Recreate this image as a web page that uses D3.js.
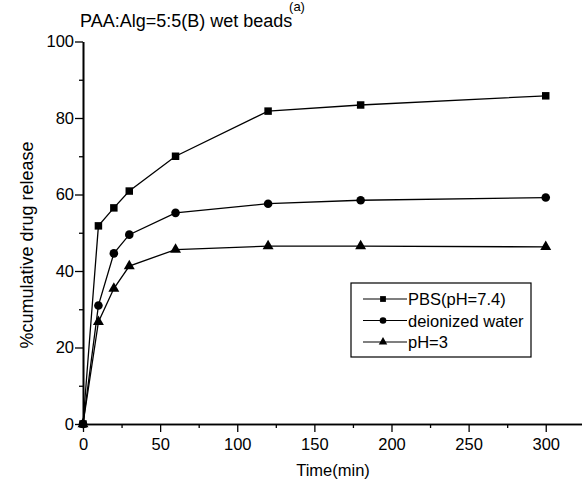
<!DOCTYPE html>
<html>
<head>
<meta charset="utf-8">
<script src="https://cdn.jsdelivr.net/npm/d3@7/dist/d3.min.js"></script>
<style>
  body { margin: 0; background: #fff; }
  svg { display: block; font-family: "Liberation Sans", Arial, sans-serif; }
</style>
</head>
<body>
<div id="chart"></div>
<script>
// data
const times = [0, 10, 20, 30, 60, 120, 180, 300];
const pbs = [0, 51.8, 56.5, 60.9, 70.0, 81.8, 83.4, 85.8];
const water = [0, 31.0, 44.6, 49.5, 55.2, 57.6, 58.5, 59.2];
const acid = [0, 26.7, 35.4, 41.3, 45.6, 46.5, 46.5, 46.3];
const seriesNames = ["PBS(pH=7.4)", "deionized water", "pH=3"];
const xTicks = [0, 50, 100, 150, 200, 250, 300];
const xMinor = [25, 75, 125, 175, 225, 275, 325];
const yTicks = [0, 20, 40, 60, 80, 100];
const yMinor = [10, 30, 50, 70, 90];

const W = 582, H = 485;

const svg = d3.select("#chart").append("svg")
  .attr("width", W)
  .attr("height", H);

const x = d3.scaleLinear().domain([0, 325]).range([83, 584.3]);
const y = d3.scaleLinear().domain([0, 100]).range([424, 41.5]);

// axes
svg.append("g")
  .attr("transform", `translate(0,${y(0)})`)
  .call(d3.axisBottom(x).tickValues(xTicks).tickSize(8).tickPadding(6).tickSizeOuter(0));
svg.append("g")
  .attr("transform", `translate(0,${y(0)})`)
  .call(d3.axisBottom(x).tickValues(xMinor).tickSize(4).tickFormat("").tickSizeOuter(0));

svg.append("g")
  .attr("transform", `translate(${x(0)},0)`)
  .call(d3.axisLeft(y).tickValues(yTicks).tickSize(8).tickPadding(1).tickSizeOuter(0));
svg.append("g")
  .attr("transform", `translate(${x(0)},0)`)
  .call(d3.axisLeft(y).tickValues(yMinor).tickSize(4).tickFormat("").tickSizeOuter(0));

svg.selectAll(".domain").attr("stroke", "#000").attr("stroke-width", 1.6);
svg.selectAll(".tick line").attr("stroke", "#000").attr("stroke-width", 1.3);
svg.selectAll(".tick text")
  .attr("fill", "#000")
  .style("font-size", "16.5px")
  .style("font-family", "'Liberation Sans', Arial, sans-serif");

// axis labels and titles
svg.append("text")
  .attr("x", 333)
  .attr("y", 476)
  .attr("text-anchor", "middle")
  .style("font-size", "16.5px")
  .text("Time(min)");

svg.append("text")
  .attr("transform", "rotate(-90)")
  .attr("x", -245)
  .attr("y", 33)
  .attr("text-anchor", "middle")
  .style("font-size", "18px")
  .text("%cumulative drug release");

svg.append("text")
  .attr("x", 80)
  .attr("y", 27)
  .style("font-size", "18px")
  .text("PAA:Alg=5:5(B) wet beads");

svg.append("text")
  .attr("x", 297)
  .attr("y", 11)
  .attr("text-anchor", "middle")
  .style("font-size", "13px")
  .text("(a)");

// series
const series = [
  { name: seriesNames[0], values: pbs, symbol: d3.symbolSquare, size: 56 },
  { name: seriesNames[1], values: water, symbol: d3.symbolCircle, size: 58 },
  { name: seriesNames[2], values: acid, symbol: d3.symbolTriangle, size: 52 }
];

const line = d3.line()
  .x((d, i) => x(times[i]))
  .y(d => y(d));

series.forEach(s => {
  svg.append("path")
    .datum(s.values)
    .attr("fill", "none")
    .attr("stroke", "#000")
    .attr("stroke-width", 1.3)
    .attr("d", line);

  svg.selectAll(null)
    .data(s.values)
    .enter()
    .append("path")
    .attr("transform", (d, i) => `translate(${x(times[i])},${y(d)})`)
    .attr("d", d3.symbol().type(s.symbol).size(s.size))
    .attr("fill", "#000");
});

// legend
const legend = svg.append("g").attr("transform", "translate(351,283)");
legend.append("rect")
  .attr("width", 180)
  .attr("height", 74)
  .attr("fill", "#fff")
  .attr("stroke", "#000")
  .attr("stroke-width", 1.2);

series.forEach((s, i) => {
  const row = legend.append("g").attr("transform", `translate(0,${16 + i * 21.5})`);
  row.append("line")
    .attr("x1", 12).attr("x2", 56)
    .attr("stroke", "#000")
    .attr("stroke-width", 1.2);
  row.append("path")
    .attr("transform", "translate(32,0)")
    .attr("d", d3.symbol().type(s.symbol).size(s.size * 0.6))
    .attr("fill", "#000");
  row.append("text")
    .attr("x", 57)
    .attr("y", 6)
    .style("font-size", "16.5px")
    .text(s.name);
});
</script>
</body>
</html>
